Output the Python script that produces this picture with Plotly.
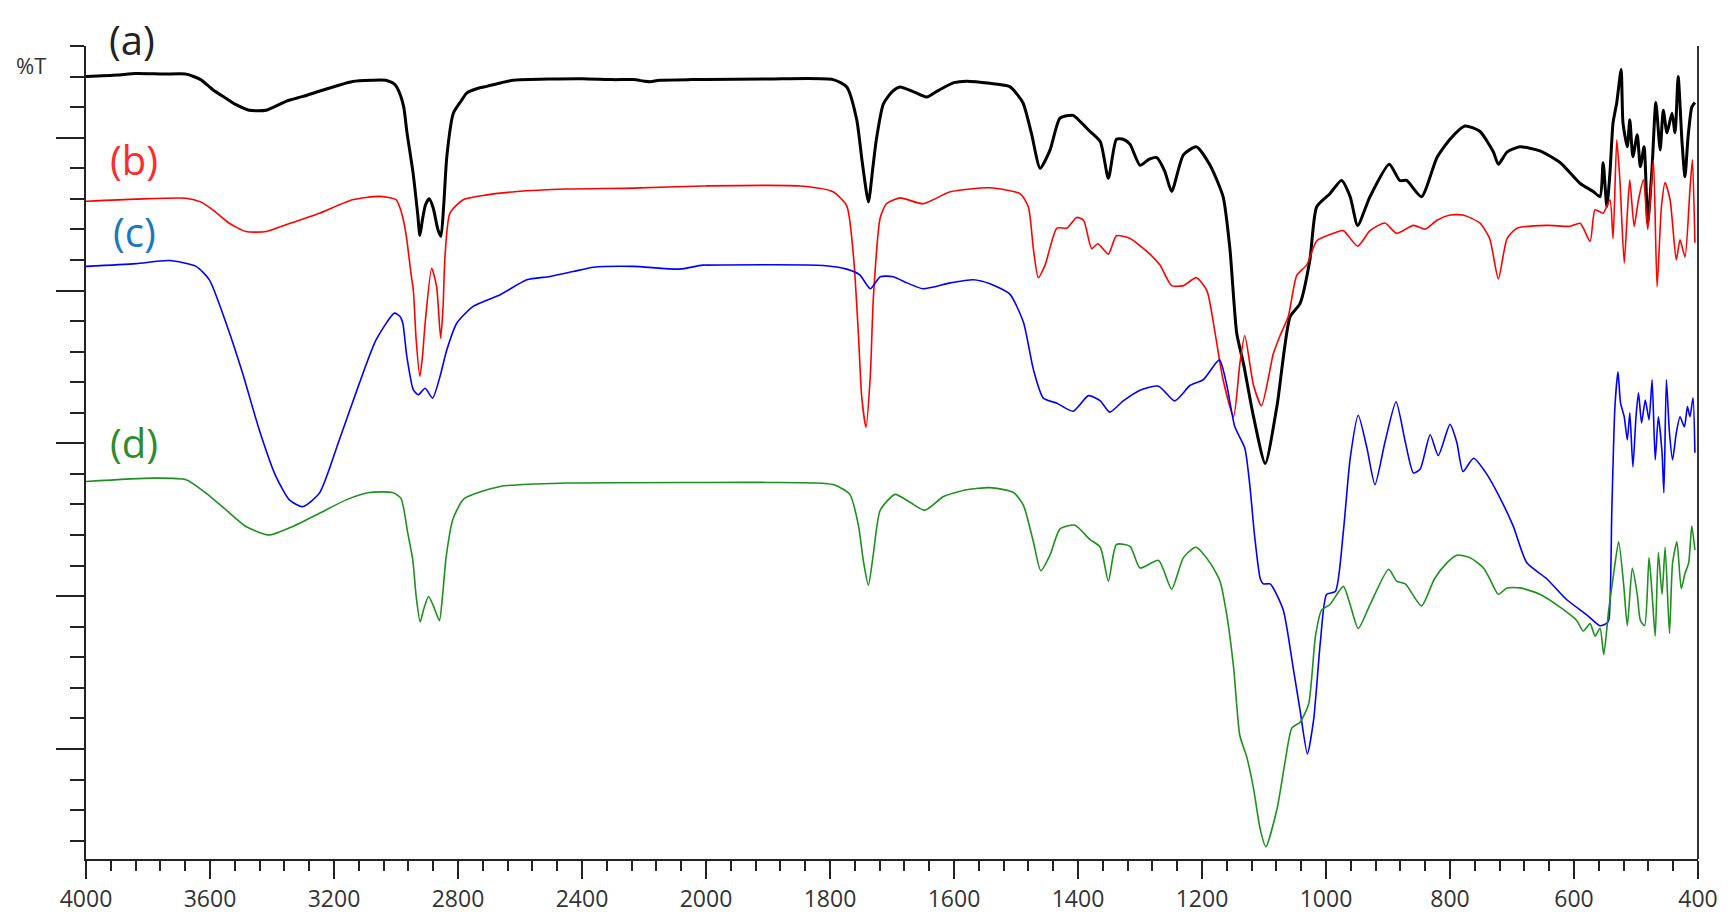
import plotly.graph_objects as go

# FTIR spectra, (wavenumber cm-1, transmittance in arbitrary offset units)
spec_a = [
    (4000, 22.0), (3900, 22.05), (3839, 22.1), (3750, 22.08), (3677, 22.08), (3630, 21.9),
    (3591, 21.57), (3550, 21.3), (3516, 21.08), (3474, 20.9), (3419, 20.9), (3355, 21.19),
    (3300, 21.35), (3248, 21.52), (3190, 21.7), (3140, 21.84), (3080, 21.88), (3032, 21.88),
    (3005, 21.75), (2990, 21.5), (2975, 21.0), (2965, 20.2), (2945, 18.85), (2930, 17.5),
    (2923, 16.8), (2915, 17.3), (2905, 17.8), (2893, 18.0), (2880, 17.7), (2865, 17.0),
    (2855, 16.77), (2846, 17.8), (2836, 19.39), (2815, 20.8), (2790, 21.2), (2772, 21.46),
    (2740, 21.6), (2707, 21.68), (2660, 21.8), (2622, 21.88), (2500, 21.92), (2400, 21.93),
    (2300, 21.9), (2235, 21.9), (2200, 21.85), (2180, 21.83), (2150, 21.88), (2050, 21.9),
    (2010, 21.9), (1900, 21.92), (1795, 21.9), (1773, 21.66), (1757, 20.6), (1748, 19.2),
    (1738, 17.9), (1731, 19.0), (1725, 19.97), (1714, 21.1), (1700, 21.5), (1687, 21.66),
    (1665, 21.5), (1644, 21.33), (1625, 21.55), (1600, 21.8), (1580, 21.85), (1542, 21.78),
    (1510, 21.67), (1489, 21.15), (1475, 20.13), (1461, 19.0), (1445, 19.6), (1429, 20.64),
    (1408, 20.73), (1395, 20.5), (1381, 20.21), (1364, 19.87), (1351, 18.67), (1338, 19.95),
    (1327, 19.95), (1316, 19.78), (1300, 19.1), (1285, 19.3), (1273, 19.35), (1260, 18.9),
    (1249, 18.24), (1230, 19.44), (1209, 19.7), (1187, 19.1), (1166, 18.07), (1155, 16.37),
    (1144, 13.6), (1133, 12.6), (1117, 10.88), (1098, 9.34), (1079, 11.23), (1058, 14.14),
    (1042, 14.57), (1026, 16.0), (1015, 17.74), (994, 18.16), (975, 18.6), (961, 18.07),
    (949, 17.13), (929, 18.07), (898, 19.13), (881, 18.6), (870, 18.6), (846, 18.07),
    (821, 19.35), (800, 19.95), (776, 20.38), (752, 20.21), (730, 19.53), (722, 19.13),
    (708, 19.53), (687, 19.7), (655, 19.57), (622, 19.18), (590, 18.5), (569, 18.24),
    (558, 18.07), (553, 19.18), (547, 17.74), (542, 18.85), (537, 20.49), (531, 21.15),
    (524, 22.23), (521, 20.49), (514, 19.7), (510, 20.59), (505, 19.38), (498, 20.1),
    (493, 19.05), (487, 19.7), (481, 17.22), (474, 19.05), (468, 21.15), (461, 19.6),
    (456, 20.9), (450, 20.16), (442, 20.8), (437, 20.16), (432, 22.0), (426, 19.93),
    (421, 18.72), (416, 20.03), (410, 21.0), (405, 21.15),
]

spec_b = [
    (4000, 17.92), (3839, 17.99), (3677, 18.02), (3630, 17.9), (3591, 17.64), (3538, 17.2),
    (3484, 16.93), (3419, 16.93), (3355, 17.15), (3247, 17.53), (3140, 17.97), (3054, 18.08),
    (3000, 17.97), (2987, 17.7), (2974, 17.2), (2965, 16.66), (2952, 15.58), (2944, 15.0),
    (2935, 13.39), (2923, 12.19), (2915, 12.8), (2906, 13.93), (2885, 15.73), (2869, 15.13),
    (2856, 13.44), (2848, 14.5), (2842, 16.11), (2826, 17.53), (2783, 17.97), (2707, 18.13),
    (2610, 18.24), (2449, 18.32), (2235, 18.35), (2010, 18.42), (1848, 18.42), (1795, 18.23),
    (1773, 17.77), (1762, 16.09), (1754, 13.5), (1749, 11.56), (1742, 10.53), (1735, 12.2),
    (1730, 14.79), (1719, 17.38), (1709, 17.84), (1687, 18.03), (1650, 17.84), (1606, 18.23),
    (1542, 18.36), (1493, 18.16), (1480, 17.73), (1472, 16.37), (1464, 15.42), (1453, 15.84),
    (1434, 17.04), (1418, 17.04), (1402, 17.39), (1391, 17.3), (1378, 16.37), (1368, 16.53),
    (1351, 16.19), (1338, 16.79), (1316, 16.7), (1284, 16.19), (1268, 15.84), (1249, 15.16),
    (1230, 15.16), (1209, 15.42), (1192, 14.99), (1179, 13.62), (1166, 12.08), (1149, 10.88),
    (1139, 12.6), (1131, 13.53), (1117, 11.91), (1104, 11.23), (1085, 12.93), (1074, 13.53),
    (1061, 14.14), (1047, 15.5), (1031, 15.84), (1015, 16.62), (988, 16.87), (972, 16.96),
    (949, 16.45), (929, 16.96), (905, 17.21), (886, 16.87), (859, 17.13), (840, 17.01),
    (821, 17.3), (800, 17.47), (779, 17.47), (752, 17.21), (736, 16.7), (722, 15.38),
    (708, 16.7), (692, 17.04), (644, 17.13), (606, 17.1), (590, 17.2), (574, 16.61),
    (566, 17.64), (553, 17.53), (542, 17.97), (537, 16.7), (531, 19.93), (526, 18.62),
    (519, 15.9), (514, 17.53), (510, 18.62), (503, 17.1), (496, 17.97), (488, 18.62),
    (481, 16.99), (472, 19.28), (466, 15.12), (459, 17.74), (453, 18.53), (445, 17.97),
    (435, 16.0), (429, 16.66), (421, 16.1), (413, 18.3), (409, 19.28), (405, 16.56),
]

spec_c = [
    (4000, 15.79), (3839, 15.88), (3731, 15.98), (3645, 15.79), (3602, 15.35), (3548, 13.93),
    (3495, 12.3), (3441, 10.44), (3387, 8.91), (3344, 8.15), (3301, 7.93), (3247, 8.37),
    (3183, 10.11), (3118, 11.97), (3064, 13.39), (3005, 14.26), (2987, 14.15), (2978, 13.93),
    (2965, 12.84), (2944, 11.75), (2928, 11.59), (2906, 11.8), (2882, 11.48), (2858, 12.19),
    (2836, 13.06), (2804, 13.93), (2751, 14.48), (2664, 14.86), (2578, 15.35), (2503, 15.46),
    (2428, 15.62), (2363, 15.76), (2235, 15.79), (2084, 15.7), (2010, 15.83), (1811, 15.82),
    (1773, 15.7), (1752, 15.51), (1735, 15.06), (1719, 15.45), (1698, 15.45), (1676, 15.25),
    (1650, 15.06), (1606, 15.25), (1569, 15.35), (1542, 15.22), (1510, 14.88), (1488, 13.96),
    (1472, 12.42), (1456, 11.48), (1434, 11.31), (1408, 11.05), (1383, 11.56), (1364, 11.39),
    (1349, 11.02), (1327, 11.39), (1300, 11.74), (1270, 11.87), (1244, 11.39), (1219, 11.9),
    (1198, 12.08), (1172, 12.73), (1160, 11.9), (1147, 10.54), (1131, 9.85), (1123, 8.65),
    (1115, 6.94), (1106, 5.57), (1101, 5.4), (1090, 5.4), (1069, 4.55), (1053, 2.66),
    (1042, 1.29), (1030, -0.16), (1020, 0.95), (1009, 3.52), (999, 5.06), (985, 5.15),
    (972, 7.12), (961, 9.51), (948, 10.92), (934, 9.85), (921, 8.65), (905, 10.03),
    (887, 11.36), (872, 10.03), (859, 9.03), (848, 9.16), (832, 10.28), (819, 9.6),
    (800, 10.62), (789, 10.03), (779, 9.08), (762, 9.51), (741, 9.0), (719, 8.2),
    (698, 7.29), (676, 6.09), (644, 5.57), (612, 4.89), (579, 4.38), (558, 4.03),
    (548, 4.1), (544, 4.21), (539, 7.8), (534, 11.2), (529, 12.34), (525, 11.33),
    (519, 10.87), (514, 10.11), (510, 11.0), (505, 9.23), (500, 10.87), (496, 11.65),
    (491, 10.67), (485, 11.42), (479, 10.77), (474, 12.08), (469, 9.46), (464, 10.87),
    (458, 9.69), (455, 8.38), (451, 12.08), (446, 10.34), (441, 9.46), (435, 10.34),
    (429, 10.87), (422, 10.54), (417, 11.2), (413, 10.87), (408, 11.49), (405, 9.69),
]

spec_d = [
    (4000, 8.75), (3785, 8.86), (3677, 8.81), (3613, 8.37), (3548, 7.82), (3484, 7.28),
    (3409, 7.0), (3333, 7.28), (3247, 7.71), (3161, 8.15), (3086, 8.39), (3011, 8.39),
    (2984, 8.2), (2962, 7.06), (2946, 6.19), (2935, 5.0), (2922, 4.16), (2910, 4.6),
    (2895, 4.99), (2880, 4.7), (2860, 4.2), (2850, 5.0), (2838, 6.3), (2816, 7.53),
    (2781, 8.18), (2664, 8.59), (2449, 8.7), (2010, 8.72), (1902, 8.72), (1795, 8.65),
    (1768, 8.33), (1754, 7.3), (1746, 6.13), (1738, 5.36), (1730, 6.39), (1719, 7.81),
    (1695, 8.33), (1671, 8.07), (1647, 7.81), (1617, 8.26), (1580, 8.48), (1542, 8.55),
    (1504, 8.39), (1488, 7.97), (1472, 6.78), (1460, 5.83), (1445, 6.35), (1429, 7.2),
    (1405, 7.32), (1381, 6.86), (1364, 6.6), (1351, 5.49), (1338, 6.69), (1316, 6.63),
    (1300, 5.92), (1270, 6.17), (1249, 5.23), (1230, 6.26), (1210, 6.6), (1187, 6.09),
    (1171, 5.49), (1160, 4.38), (1149, 2.66), (1139, 0.44), (1128, -0.25), (1117, -1.28),
    (1106, -2.64), (1097, -3.2), (1079, -1.96), (1066, -0.42), (1055, 0.69), (1042, 0.87),
    (1028, 1.47), (1017, 3.69), (1007, 4.55), (994, 4.72), (972, 5.32), (961, 4.72),
    (948, 3.94), (929, 4.72), (899, 5.88), (886, 5.49), (872, 5.4), (846, 4.68),
    (825, 5.57), (805, 6.09), (789, 6.34), (768, 6.26), (746, 5.92), (736, 5.57),
    (722, 5.06), (708, 5.27), (687, 5.27), (655, 5.06), (622, 4.63), (596, 4.21),
    (585, 3.86), (574, 4.1), (566, 3.69), (558, 3.95), (552, 3.09), (544, 4.55),
    (536, 5.74), (528, 6.78), (520, 5.4), (514, 4.03), (506, 5.92), (498, 5.06),
    (493, 4.21), (486, 4.03), (479, 6.26), (474, 5.06), (469, 3.69), (464, 6.43),
    (458, 5.06), (453, 6.6), (446, 3.78), (441, 6.09), (434, 6.78), (427, 5.24),
    (421, 5.74), (415, 6.09), (410, 7.29), (405, 6.51),
]

labels = ["(a)", "(b)", "(c)", "(d)"]
high_ticks = [4000, 3600, 3200, 2800, 2400, 2000]
low_ticks = [1800, 1600, 1400, 1200, 1000, 800, 600, 400]

CUT = 2000  # instrument scale doubles below 2000 cm-1

series = [
    (spec_a, "#000000", 3.0),
    (spec_b, "#ff0000", 1.6),
    (spec_c, "#0000ff", 1.6),
    (spec_d, "#1f8f1f", 1.6),
]


def split(pts):
    hi = [p for p in pts if p[0] >= CUT]
    lo = [p for p in pts if p[0] <= CUT]
    # carry one point across the cut so the line runs up to the boundary
    nxt = [p for p in pts if p[0] < CUT][0]
    prv = [p for p in pts if p[0] > CUT][-1]
    return hi + [nxt], [prv] + lo


fig = go.Figure()
for pts, color, width in series:
    hi, lo = split(pts)
    for seg, xa in ((hi, "x"), (lo, "x2")):
        fig.add_trace(go.Scatter(
            x=[p[0] for p in seg], y=[p[1] for p in seg],
            mode="lines", line=dict(color=color, width=width, shape="spline", smoothing=0.6),
            xaxis=xa, yaxis="y", showlegend=False, hoverinfo="skip",
        ))

axis_col = "#222222"
tick_font = dict(family="Open Sans", size=23, color="#333333")
common_x = dict(
    showline=True, linewidth=2, linecolor=axis_col, showgrid=False, zeroline=False,
    ticks="outside", ticklen=18, tickwidth=2, tickcolor=axis_col, tickfont=tick_font,
    tickmode="array", anchor="y", fixedrange=True, automargin=False,
)
# the page body offsets the figure by 8px, so shift the plot area to match
fig.update_layout(
    width=1724, height=908,
    margin=dict(l=78, r=34, t=38, b=57, autoexpand=False),
    paper_bgcolor="white", plot_bgcolor="white",
    xaxis=dict(domain=[0, 5 / 13], range=[4000, 2000], tickvals=high_ticks,
               minor=dict(tickmode="linear", tick0=4000, dtick=80, ticks="outside",
                          ticklen=10, tickwidth=2, tickcolor=axis_col),
               **common_x),
    xaxis2=dict(domain=[5 / 13, 1], range=[2000, 400], tickvals=low_ticks,
                minor=dict(tickmode="linear", tick0=2000, dtick=40, ticks="outside",
                           ticklen=10, tickwidth=2, tickcolor=axis_col),
                **common_x),
    yaxis=dict(range=[-3.6, 23.0], showline=True, linewidth=2, linecolor=axis_col,
               showgrid=False, zeroline=False, showticklabels=False, automargin=False,
               tickmode="linear", tick0=0, dtick=5, ticks="outside", ticklen=28,
               tickwidth=2, tickcolor=axis_col, fixedrange=True,
               minor=dict(tickmode="linear", tick0=0, dtick=1, ticks="outside",
                          ticklen=14, tickwidth=2, tickcolor=axis_col)),
    shapes=[dict(type="line", xref="paper", yref="paper", x0=1, x1=1, y0=0, y1=1,
                 line=dict(color="#333333", width=2))],
)

label_pos = [(0.0285, 1.0075), (0.0298, 0.861), (0.0298, 0.772), (0.0298, 0.512)]
label_col = ["#222222", "#ff2a2a", "#1a78c2", "#2e8b2e"]
for text, (px, py), col in zip(labels, label_pos, label_col):
    fig.add_annotation(text=text, x=px, y=py, xref="paper", yref="paper",
                       showarrow=False, xanchor="center", yanchor="middle",
                       font=dict(family="Open Sans", size=40, color=col))
fig.add_annotation(text="%T", x=-0.0341, y=0.977, xref="paper", yref="paper",
                   showarrow=False, xanchor="center", yanchor="middle",
                   font=dict(family="Open Sans", size=22, color="#333333"))

fig.write_html("out.html")
